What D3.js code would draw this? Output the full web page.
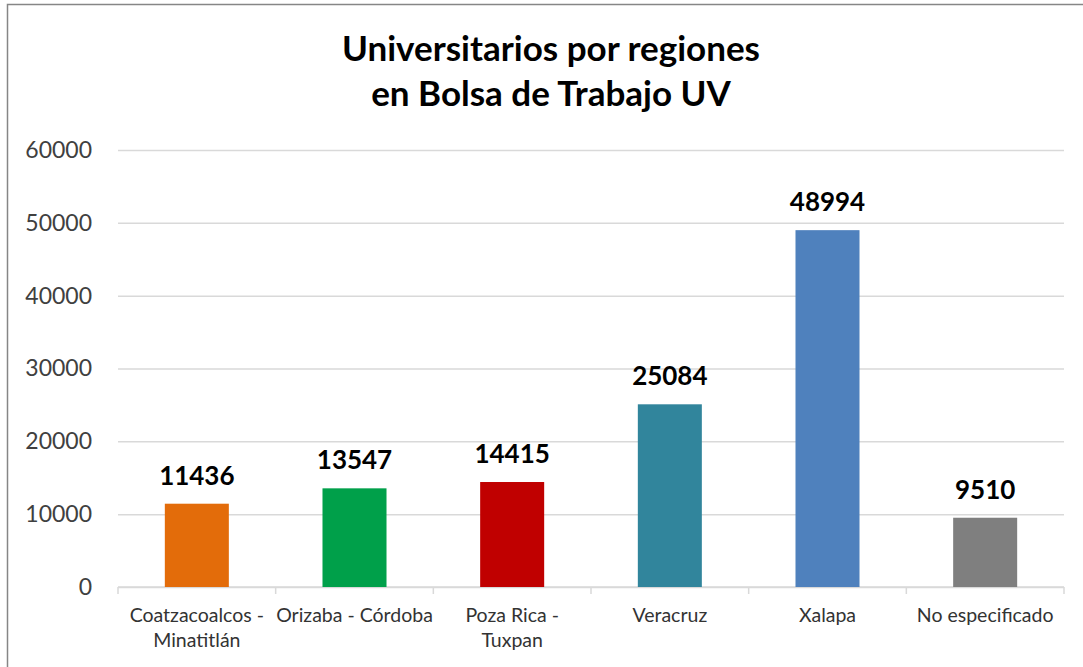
<!DOCTYPE html>
<html>
<head>
<meta charset="utf-8">
<script src="https://cdn.jsdelivr.net/npm/d3@7/dist/d3.min.js"></script>
<style>
	body { margin: 0; background: #fff; }
	text { font-family: Lato, "Open Sans", sans-serif; }
</style>
</head>
<body>
<svg id="chart" width="1083" height="667"></svg>
<script>
// data
var titleLines = ["Universitarios por regiones", "en Bolsa de Trabajo UV"];
var categories = ["Coatzacoalcos -\nMinatitlán", "Orizaba - Córdoba", "Poza Rica -\nTuxpan", "Veracruz", "Xalapa", "No especificado"];
var values = [11436, 13547, 14415, 25084, 48994, 9510];
var barColors = ["#E36C0A", "#00A04A", "#C00000", "#31859C", "#4F81BD", "#7F7F7F"];
var yTicks = [0, 10000, 20000, 30000, 40000, 50000, 60000];

var svg = d3.select("#chart");
var width = 1083, height = 667;
var plot = { left: 118, right: 1064, top: 150, bottom: 587 };

// outer frame, only top and left edges show in the reference
svg.append("rect")
	.attr("x", 7.5).attr("y", 4.5)
	.attr("width", width + 20).attr("height", height + 20)
	.attr("fill", "#fff")
	.attr("stroke", "#868686")
	.attr("stroke-width", 1.5);

var x = d3.scaleBand()
	.domain(d3.range(categories.length))
	.range([plot.left, plot.right])
	.paddingInner(0.594)
	.paddingOuter(0.297);

var y = d3.scaleLinear()
	.domain([0, 60000])
	.range([plot.bottom, plot.top]);

// title
svg.append("g").selectAll("text").data(titleLines).enter().append("text")
	.attr("x", 551)
	.attr("y", function(d, i) { return 61 + i * 45; })
	.attr("text-anchor", "middle")
	.attr("font-weight", "bold")
	.attr("font-size", "35px")
	.attr("fill", "#000")
	.text(function(d) { return d; });

// gridlines + y labels
var yAxis = svg.append("g")
	.attr("transform", "translate(" + plot.left + ",0)")
	.call(d3.axisLeft(y).tickValues(yTicks).tickSize(-(plot.right - plot.left)).tickPadding(26).tickFormat(d3.format("d")));
yAxis.select(".domain").remove();
yAxis.selectAll(".tick line").attr("stroke", "#D9D9D9").attr("stroke-width", 1.5);
yAxis.selectAll(".tick text")
	.attr("font-family", "Lato, sans-serif")
	.attr("font-size", "23px")
	.attr("fill", "#404040");

// category axis with boundary ticks
var step = x.step();
var xAxis = svg.append("g");
xAxis.append("line")
	.attr("x1", plot.left).attr("x2", plot.right)
	.attr("y1", plot.bottom).attr("y2", plot.bottom)
	.attr("stroke", "#D9D9D9").attr("stroke-width", 1.5);
xAxis.selectAll("line.sep").data(d3.range(categories.length + 1)).enter().append("line")
	.classed("sep", 1)
	.attr("x1", function(d) { return plot.left + d * step; })
	.attr("x2", function(d) { return plot.left + d * step; })
	.attr("y1", plot.bottom).attr("y2", plot.bottom + 7)
	.attr("stroke", "#D9D9D9").attr("stroke-width", 1.5);

var labels = xAxis.selectAll("text.cat").data(categories).enter().append("text")
	.classed("cat", 1)
	.attr("text-anchor", "middle")
	.attr("font-size", "19.5px")
	.attr("fill", "#333");
labels.each(function(d, i)
{
	var lines = d.split("\n");
	var t = d3.select(this);
	lines.forEach(function(line, j)
	{
		t.append("tspan")
			.attr("x", x(i) + x.bandwidth() / 2)
			.attr("y", 622 + j * 25)
			.text(line);
	});
});

// bars
svg.append("g").selectAll("rect").data(values).enter().append("rect")
	.attr("x", function(d, i) { return x(i); })
	.attr("y", function(d) { return y(d); })
	.attr("width", x.bandwidth())
	.attr("height", function(d) { return y(0) - y(d); })
	.attr("fill", function(d, i) { return barColors[i]; });

// value labels
svg.append("g").selectAll("text").data(values).enter().append("text")
	.attr("x", function(d, i) { return x(i) + x.bandwidth() / 2; })
	.attr("y", function(d) { return y(d) - 19; })
	.attr("text-anchor", "middle")
	.attr("font-weight", "bold")
	.attr("font-size", "26px")
	.attr("fill", "#000")
	.text(function(d) { return d; });
</script>
</body>
</html>
